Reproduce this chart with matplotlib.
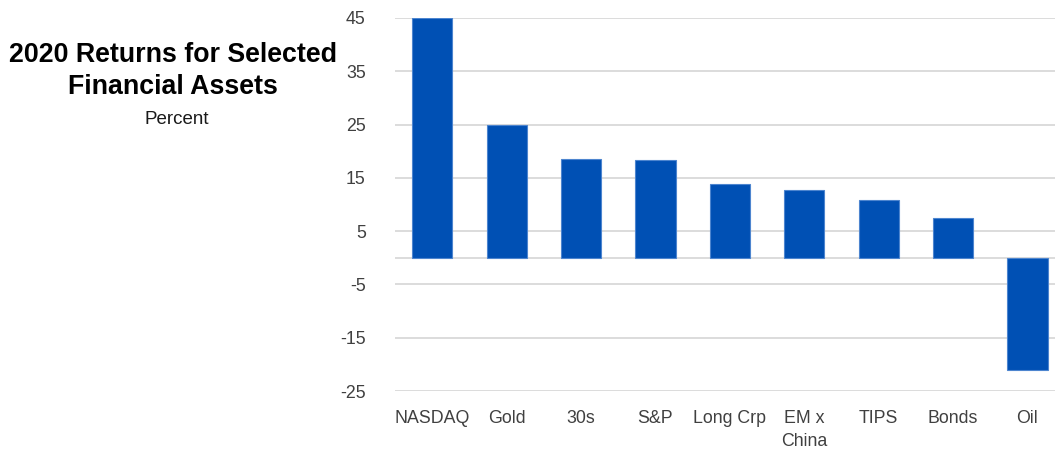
import matplotlib
matplotlib.use("Agg")
import matplotlib.pyplot as plt

categories = ["NASDAQ", "Gold", "30s", "S&P", "Long Crp", "EM x\nChina", "TIPS", "Bonds", "Oil"]
returns = [45.0, 24.9, 18.6, 18.3, 13.9, 12.7, 10.9, 7.4, -21.0]
yticks = [-25, -15, -5, 5, 15, 25, 35, 45]

plt.rcParams['font.family'] = ['Liberation Sans', 'DejaVu Sans']

fig = plt.figure(figsize=(10.55, 4.49), dpi=100)
ax = fig.add_axes([395/1055, (449-391)/449, (1055-395)/1055, (391-18)/449])

x = list(range(len(categories)))
ax.bar(x, returns, width=0.54, color="#0050b4", edgecolor="#4d85cf", linewidth=0.8, zorder=3)

ax.set_ylim(-25, 45)
ax.set_xlim(-0.5, 8.37)
ax.set_yticks(yticks)
ax.set_yticklabels([str(t) for t in yticks])
for t in yticks + [0]:
    ax.axhline(t, color="#d9d9d9", linewidth=1.3, zorder=1)

ax.set_xticks(x)
ax.set_xticklabels(categories, linespacing=1.45, va="top")
ax.tick_params(axis="both", length=0, labelsize=12.8, colors="#404040")
ax.tick_params(axis="y", pad=21)
ax.tick_params(axis="x", pad=14)
for s in ax.spines.values():
    s.set_visible(False)

fig.text(173/1055, 1 - 55/449, "2020 Returns for Selected", ha="center", va="center",
         fontsize=19.3, fontweight="bold", color="black")
fig.text(173/1055, 1 - 87/449, "Financial Assets", ha="center", va="center",
         fontsize=19.3, fontweight="bold", color="black")
fig.text(177/1055, 1 - 119/449, "Percent", ha="center", va="center",
         fontsize=13.5, color="#1a1a1a")

fig.savefig("out.png", dpi=100)
